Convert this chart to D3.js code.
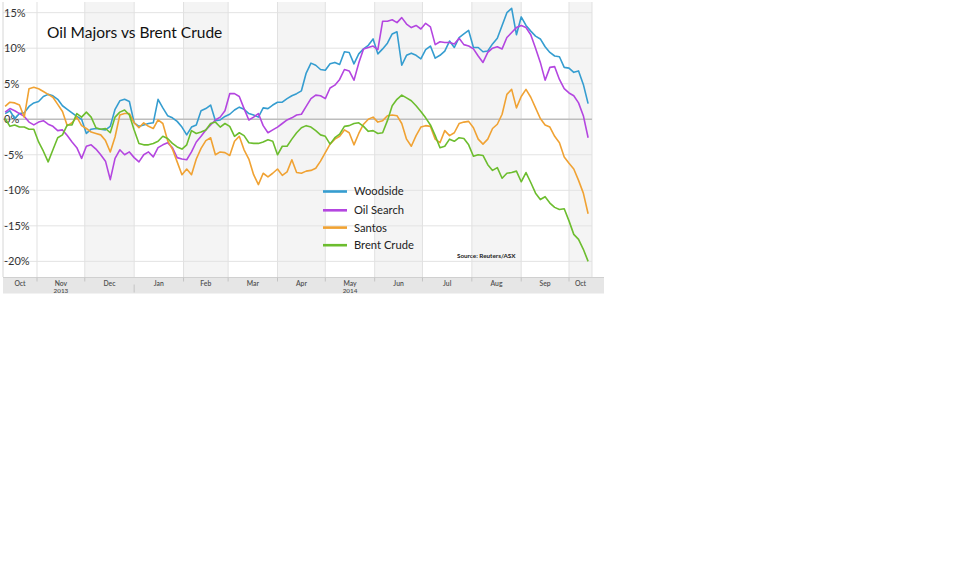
<!DOCTYPE html>
<html>
<head>
<meta charset="utf-8">
<script src="https://cdn.jsdelivr.net/npm/d3@7"></script>
<style>
  html, body { margin: 0; padding: 0; background: #ffffff; }
  svg { display: block; font-family: Lato, "Open Sans", Arial, sans-serif; }
</style>
</head>
<body>
<svg id="chart" width="962" height="566"></svg>
<script>
// readings every 3 days, starting 12 Oct 2013 (% change vs start)
const startDate = new Date(2013, 9, 12);
const stepDays = 3;

const woodside = [
  0.8, 1.2, 0.1, 0.8, 0.9, 1.8, 2.3, 2.5, 3.2, 3.5, 3.3, 2.8, 1.9, 1.4, 0.9, 0.4, 0.0, -2.0, -1.4, -1.3, -1.4, -1.5, -1.0, 1.4, 2.6, 2.8, 2.5, -0.5, -1.0, -0.8, -0.6,
  -0.5, 2.8, 1.6, 0.5, 0.2, -0.3, -1.1, -2.2, -1.1, -0.8, 1.2, 1.5, 2.0, -0.2, -0.1, 0.4, 0.7, 1.3, 1.7, 1.4, 0.8, 0.6, 0.3, 1.6, 1.5, 2.0, 2.4, 2.4, 2.9, 3.3, 3.6,
  4.0, 6.5, 7.9, 7.6, 7.0, 6.9, 7.8, 8.0, 7.7, 9.5, 9.4, 7.8, 9.2, 9.9, 10.4, 11.3, 9.2, 9.9, 10.7, 12.0, 12.3, 7.6, 9.0, 9.3, 9.0, 8.5, 9.8, 10.3, 8.6, 9.0, 9.6,
  11.0, 10.1, 11.5, 12.0, 12.5, 10.1, 10.1, 9.5, 9.6, 10.6, 11.4, 13.2, 15.0, 15.6, 11.9, 14.4, 13.2, 12.4, 11.7, 11.3, 10.2, 9.4, 8.9, 8.8, 7.3, 7.2, 6.6, 6.8, 4.9, 2.2
];
const oilSearch = [
  1.0, 1.5, 1.2, 0.8, 0.4, -0.4, -0.8, -0.4, -0.2, -0.7, -1.0, -1.6, -1.5, -2.3, -3.2, -4.0, -5.5, -3.8, -3.6, -4.2, -5.0, -5.9, -8.5, -5.5, -4.3, -5.0, -4.6, -5.4, -6.0, -5.0, -4.6,
  -5.3, -4.0, -3.6, -3.3, -4.0, -5.4, -5.6, -5.7, -4.6, -3.2, -2.4, -1.5, -0.8, -0.1, 0.3, 1.2, 3.6, 3.6, 3.2, 1.5, -0.1, 0.3, 0.8, -0.9, -1.9, -1.5, -1.1, -0.6, -0.1, 0.2, 0.6,
  0.7, 1.8, 2.9, 3.4, 3.3, 2.9, 4.4, 4.8, 5.6, 7.0, 6.8, 5.5, 7.9, 9.9, 10.1, 10.3, 9.8, 13.8, 13.8, 14.0, 13.6, 14.3, 13.4, 12.9, 13.2, 12.7, 13.5, 13.0, 10.5, 10.9, 10.8,
  10.8, 10.6, 11.4, 10.5, 10.3, 9.9, 8.9, 8.0, 9.4, 10.0, 10.2, 9.9, 11.5, 12.2, 12.9, 13.2, 12.9, 11.9, 10.0, 8.0, 5.5, 7.3, 7.4, 5.6, 4.3, 3.7, 3.3, 2.3, 0.5, -2.6
];
const santos = [
  1.8, 2.4, 2.3, 2.0, 0.3, 4.3, 4.5, 4.3, 3.9, 3.5, 3.1, 2.1, 1.1, -0.9, -0.5, 0.3, -0.9, -1.3, -1.8, -2.0, -2.2, -3.0, -4.6, -2.5, 0.6, 0.8, 0.8, -0.5, -1.2, -0.5, -1.0,
  -1.3, -0.1, -0.6, -3.0, -4.2, -6.0, -7.8, -7.0, -7.8, -5.6, -4.1, -3.0, -2.6, -5.0, -4.6, -4.7, -5.1, -3.1, -2.4, -4.3, -5.6, -7.8, -9.2, -7.6, -8.1, -7.6, -7.0, -7.9, -7.4, -5.7, -7.5,
  -7.6, -7.3, -7.2, -6.9, -5.9, -4.7, -3.5, -2.8, -2.4, -1.5, -1.9, -3.6, -2.0, -0.7, 0.0, 0.3, -0.4, -0.2, 0.5, 0.6, 0.5, -0.6, -2.8, -3.8, -2.3, -1.1, -0.9, -1.0, -2.8, -3.3, -1.6,
  -2.3, -1.9, -0.6, -0.4, -0.3, -1.2, -2.8, -3.5, -2.8, -1.3, -0.7, 0.7, 3.5, 4.2, 1.6, 3.2, 4.2, 3.1, 1.6, 0.1, -0.8, -1.1, -2.4, -3.3, -5.3, -6.2, -7.0, -8.6, -10.4, -13.3
];
const brentCrude = [
  0.1, -1.0, -0.8, -1.1, -1.1, -1.4, -1.4, -3.2, -4.5, -6.0, -4.3, -2.6, -2.2, -0.8, -0.8, 0.8, 0.3, 1.0, 0.3, -1.2, -1.4, -1.3, -1.9, 0.3, 1.0, 1.3, 0.6, -1.5, -3.4, -3.6, -3.6,
  -3.4, -3.1, -2.4, -2.7, -3.4, -3.9, -4.2, -3.6, -1.6, -2.0, -1.8, -1.5, -0.6, -0.4, -1.1, -0.6, -1.0, -2.4, -1.9, -2.3, -3.3, -3.4, -3.4, -3.2, -2.9, -3.1, -5.0, -3.8, -3.8, -2.8, -1.9,
  -1.2, -0.9, -1.1, -1.6, -2.2, -2.4, -3.5, -2.6, -2.1, -1.0, -0.9, -0.6, -0.5, -1.0, -1.7, -1.6, -2.0, -1.9, -0.2, 1.9, 2.8, 3.4, 3.0, 2.6, 1.9, 1.1, 0.2, -0.8, -2.3, -4.0, -3.8,
  -2.8, -3.1, -2.6, -2.7, -3.6, -5.2, -5.0, -5.1, -6.4, -7.2, -6.8, -8.3, -7.6, -7.5, -7.3, -8.8, -7.5, -8.9, -10.4, -11.3, -10.9, -11.8, -12.4, -12.7, -12.6, -14.3, -16.2, -16.9, -18.3, -20.0
];

const seriesNames = ["Woodside", "Oil Search", "Santos", "Brent Crude"];
const seriesValues = [woodside, oilSearch, santos, brentCrude];
const seriesColors = ["#359dd0", "#b446e0", "#f0a233", "#6cbd2e"];

const yTicks = [15, 10, 5, 0, -5, -10, -15, -20];
const monthLabels = ["Oct", "Nov", "Dec", "Jan", "Feb", "Mar", "Apr", "May", "Jun", "Jul", "Aug", "Sep", "Oct"];
const yearLabels = [{ label: "2013", month: 1 }, { label: "2014", month: 7 }];
const titleText = "Oil Majors vs Brent Crude";
const sourceText = "Source: Reuters/ASX";

const svg = d3.select("#chart");
const plot = { left: 3, right: 592, top: 2, bottom: 277 };
const band = { left: 3, top: 277.5, bottom: 293.5, right: 604 };

const x = d3.scaleTime().domain([new Date(2013, 10, 1), new Date(2014, 9, 1)]).range([37, 569]);
const y = d3.scaleLinear().domain([-22.2, 16.5]).range([plot.bottom, plot.top]);
const dateAt = (i) => d3.timeDay.offset(startDate, i * stepDays);

const monthStarts = d3.timeMonth.range(new Date(2013, 10, 1), new Date(2014, 9, 2));
const edges = [plot.left, ...monthStarts.map((d) => x(d)), plot.right];

// alternate month shading
monthLabels.forEach((label, i) => {
  if (i % 2 === 0 && i > 0) {
    svg.append("rect")
      .attr("x", edges[i]).attr("y", plot.top)
      .attr("width", edges[i + 1] - edges[i]).attr("height", plot.bottom - plot.top)
      .attr("fill", "#f4f4f4");
  }
});

// grid
svg.append("g")
  .selectAll("line")
  .data(yTicks.filter((t) => t !== 0))
  .join("line")
  .attr("x1", plot.left).attr("x2", plot.right)
  .attr("y1", (t) => y(t)).attr("y2", (t) => y(t))
  .attr("stroke", "#e3e3e3").attr("stroke-width", 1);
svg.append("g")
  .selectAll("line")
  .data(monthStarts)
  .join("line")
  .attr("x1", (d) => x(d)).attr("x2", (d) => x(d))
  .attr("y1", plot.top).attr("y2", plot.bottom)
  .attr("stroke", "#e1e1e1").attr("stroke-width", 1);
svg.append("line")
  .attr("x1", plot.left).attr("x2", plot.left).attr("y1", plot.top).attr("y2", plot.bottom)
  .attr("stroke", "#d6d6d6");
svg.append("line")
  .attr("x1", plot.right).attr("x2", plot.right).attr("y1", plot.top).attr("y2", plot.bottom)
  .attr("stroke", "#e1e1e1");
svg.append("line")
  .attr("x1", plot.left).attr("x2", plot.right).attr("y1", y(0)).attr("y2", y(0))
  .attr("stroke", "#bdbdbd").attr("stroke-width", 1.6);

// y labels sit inside the plot
svg.append("g")
  .selectAll("text")
  .data(yTicks)
  .join("text")
  .attr("x", plot.left + 1)
  .attr("y", (t) => y(t))
  .attr("dy", "0.35em")
  .attr("font-size", 11)
  .attr("fill", "#333")
  .text((t) => `${t}%`);

// title
svg.append("text")
  .attr("x", 47).attr("y", 38)
  .attr("font-size", 15.5)
  .attr("fill", "#111")
  .text(titleText);

// series
const line = d3.line()
  .x((v, i) => x(dateAt(i)))
  .y((v) => y(v));
seriesValues.forEach((values, k) => {
  svg.append("path")
    .attr("d", line(values))
    .attr("fill", "none")
    .attr("stroke", seriesColors[k])
    .attr("stroke-width", 1.6)
    .attr("stroke-linejoin", "round");
});

// legend
const legendY = [191.5, 210.3, 227.6, 245.2];
seriesNames.forEach((name, k) => {
  svg.append("line")
    .attr("x1", 323).attr("x2", 347)
    .attr("y1", legendY[k]).attr("y2", legendY[k])
    .attr("stroke", seriesColors[k]).attr("stroke-width", 2.6);
  svg.append("text")
    .attr("x", 354).attr("y", legendY[k])
    .attr("dy", "0.35em")
    .attr("font-size", 11.2)
    .attr("fill", "#222")
    .text(name);
});

svg.append("text")
  .attr("x", 457).attr("y", 256)
  .attr("dy", "0.35em")
  .attr("font-size", 6.3)
  .attr("font-weight", "bold")
  .attr("fill", "#222")
  .text(sourceText);

// bottom date band
svg.append("rect")
  .attr("x", band.left).attr("y", band.top)
  .attr("width", band.right - band.left).attr("height", band.bottom - band.top)
  .attr("fill", "#e6e6e6");
svg.append("line")
  .attr("x1", band.left).attr("x2", band.right).attr("y1", band.top).attr("y2", band.top)
  .attr("stroke", "#d0d0d0");
svg.append("g")
  .selectAll("line")
  .data(monthStarts)
  .join("line")
  .attr("x1", (d) => x(d)).attr("x2", (d) => x(d))
  .attr("y1", (d) => d.getMonth() === 0 ? band.top + 7 : band.top)
  .attr("y2", (d) => d.getMonth() === 0 ? band.bottom - 1 : band.top + 4)
  .attr("stroke", "#c4c4c4");

svg.append("g")
  .selectAll("text")
  .data(monthLabels)
  .join("text")
  .attr("x", (label, i) => (edges[i] + edges[i + 1]) / 2)
  .attr("y", 283.3)
  .attr("dy", "0.35em")
  .attr("text-anchor", "middle")
  .attr("font-size", 6.8)
  .attr("font-weight", 600)
  .attr("fill", "#505050")
  .text((label) => label);
svg.append("g")
  .selectAll("text")
  .data(yearLabels)
  .join("text")
  .attr("x", (d) => (edges[d.month] + edges[d.month + 1]) / 2)
  .attr("y", 290.8)
  .attr("dy", "0.3em")
  .attr("text-anchor", "middle")
  .attr("font-size", 6.3)
  .attr("font-weight", 600)
  .attr("fill", "#505050")
  .text((d) => d.label);
</script>
</body>
</html>
